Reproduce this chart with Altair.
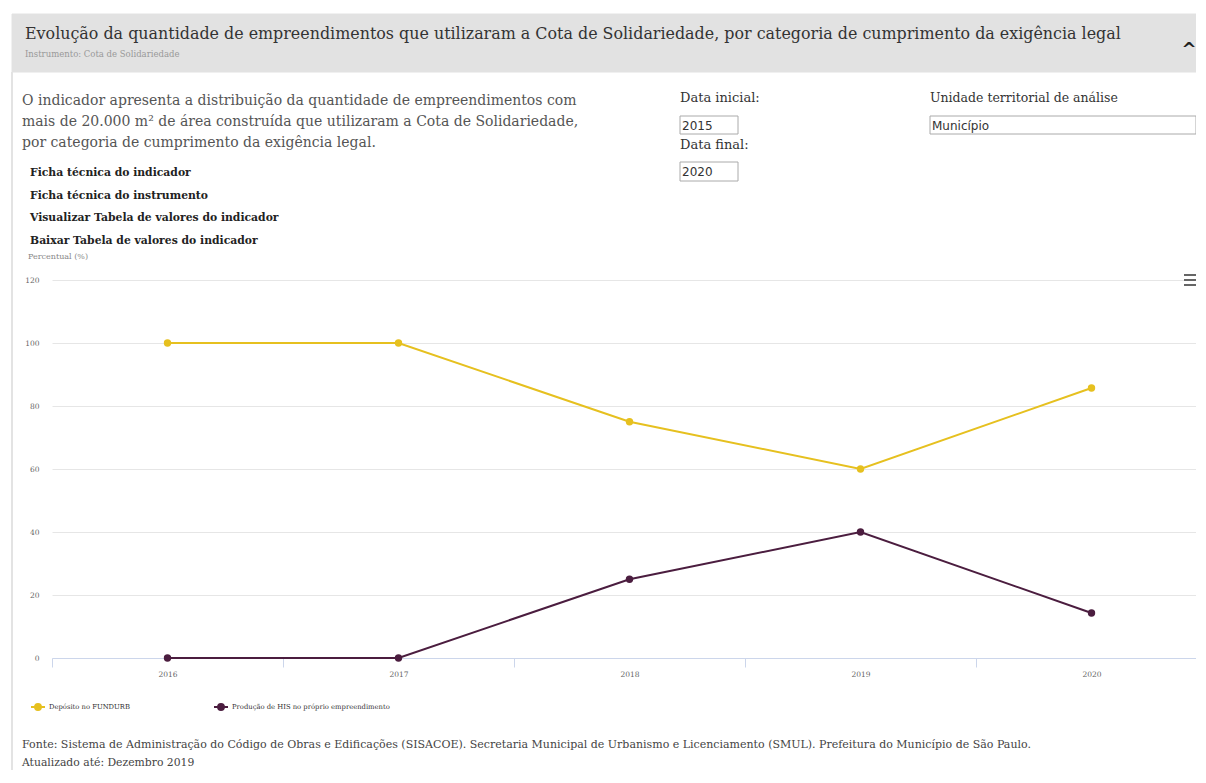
import altair as alt
import pandas as pd

# ---------------- data ----------------
years = ["2016", "2017", "2018", "2019", "2020"]
deposito = [100, 100, 75, 60, 85.7]
producao = [0, 0, 25, 40, 14.3]
series_names = ["Depósito no FUNDURB", "Produção de HIS no próprio empreendimento"]
series_colors = ["#E6C01F", "#4B1D3F"]
y_ticks = [0, 20, 40, 60, 80, 100, 120]

title_text = ("Evolução da quantidade de empreendimentos que utilizaram a Cota de "
              "Solidariedade, por categoria de cumprimento da exigência legal")
subtitle_text = "Instrumento: Cota de Solidariedade"
desc_lines = [
    "O indicador apresenta a distribuição da quantidade de empreendimentos com",
    "mais de 20.000 m² de área construída que utilizaram a Cota de Solidariedade,",
    "por categoria de cumprimento da exigência legal.",
]
links = [
    "Ficha técnica do indicador",
    "Ficha técnica do instrumento",
    "Visualizar Tabela de valores do indicador",
    "Baixar Tabela de valores do indicador",
]
y_title = "Percentual (%)"
source_text = ("Fonte: Sistema de Administração do Código de Obras e Edificações (SISACOE). "
               "Secretaria Municipal de Urbanismo e Licenciamento (SMUL). Prefeitura do Município de São Paulo.")
updated_text = "Atualizado até: Dezembro 2019"

df = pd.DataFrame({
    "ano": years * 2,
    "valor": deposito + producao,
    "serie": [series_names[0]] * len(years) + [series_names[1]] * len(years),
})

# ---------------- layout (page px -> plot-local px) ----------------
X0, Y0 = 52, 280
W, H = 1128, 378
SERIF = "DejaVu Serif"
one = pd.DataFrame({"k": [0]})


def P(x, y):
    return x - X0, y - Y0


def txt(s, x, y, size, color="#333", weight="normal", font=SERIF, align="left", baseline="middle"):
    lx, ly = P(x, y)
    return alt.Chart(one).mark_text(
        align=align, baseline=baseline, font=font, fontSize=size, color=color, fontWeight=weight
    ).encode(x=alt.value(lx), y=alt.value(ly), text=alt.value(s))


def box(x1, y1, x2, y2, fill="white", stroke="#aaa", sw=1):
    a, b = P(x1, y1)
    c, d = P(x2, y2)
    return alt.Chart(one).mark_rect(fill=fill, stroke=stroke, strokeWidth=sw).encode(
        x=alt.value(a), x2=alt.value(c), y=alt.value(b), y2=alt.value(d))


def hrule(x1, x2, y, color="#666", sw=2):
    a, b = P(x1, y)
    c, _ = P(x2, y)
    return alt.Chart(one).mark_rule(color=color, strokeWidth=sw).encode(
        x=alt.value(a), x2=alt.value(c), y=alt.value(b))


def vrule(x, y1, y2, color="#e3e3e3", sw=2):
    a, b = P(x, y1)
    _, d = P(x, y2)
    return alt.Chart(one).mark_rule(color=color, strokeWidth=sw).encode(
        x=alt.value(a), y=alt.value(b), y2=alt.value(d))


deco = [
    box(12, 14, 1210, 72, fill="#e2e2e2", stroke="#e2e2e2"),
    vrule(12, 72, 790),
    txt(title_text, 25, 34, 15.9, color="#333"),
    txt(subtitle_text, 25, 54, 8.5, color="#999"),
    txt("^", 1189, 50, 18, color="#222", weight="bold", font="DejaVu Sans", align="center"),
]
for i, line in enumerate(desc_lines):
    deco.append(txt(line, 22, 101 + 21 * i, 14, color="#555"))
for i, line in enumerate(links):
    deco.append(txt(line, 30, 173 + 22.5 * i, 10.8, color="#222", weight="bold"))
deco += [
    txt(y_title, 28, 257, 8, color="#888"),
    txt("Data inicial:", 680, 98, 13, color="#333"),
    box(680, 116, 738, 134),
    txt("2015", 682, 125.5, 12, color="#333", font="DejaVu Sans"),
    txt("Data final:", 680, 145, 13, color="#333"),
    box(680, 162, 738, 181),
    txt("2020", 682, 171.5, 12, color="#333", font="DejaVu Sans"),
    txt("Unidade territorial de análise", 930, 98, 12.5, color="#333"),
    box(930, 116, 1196, 134),
    txt("Município", 932, 125.5, 12, color="#333", font="DejaVu Sans"),
    hrule(1184, 1196, 275),
    hrule(1184, 1196, 280),
    hrule(1184, 1196, 285),
    txt(source_text, 22, 745, 11, color="#444"),
    txt(updated_text, 22, 763, 10.8, color="#444"),
]

# ---------------- chart ----------------
x_enc = alt.X(
    "ano:N", sort=years,
    scale=alt.Scale(range=[0, 1155], paddingInner=0, paddingOuter=0),
    axis=alt.Axis(title=None, labelAngle=0, tickBand="extent", tickSize=9, labelPadding=3,
                  labelFont=SERIF, labelFontSize=7.5, labelColor="#666",
                  domainColor="#ccd6eb", tickColor="#ccd6eb", grid=False),
)
y_enc = alt.Y(
    "valor:Q", scale=alt.Scale(domain=[0, 120], nice=False),
    axis=alt.Axis(title=None, values=y_ticks, grid=True, gridColor="#e6e6e6", ticks=False,
                  domain=False, labelPadding=13, labelFont=SERIF, labelFontSize=7.5,
                  labelColor="#666"),
)
sym = "M-1,0L1,0M-0.42,0A0.42,0.42,0,1,1,0.42,0A0.42,0.42,0,1,1,-0.42,0Z"
color_enc = alt.Color(
    "serie:N", sort=series_names,
    scale=alt.Scale(domain=series_names, range=series_colors),
    legend=alt.Legend(title=None, orient="none", legendX=-22, legendY=419, direction="horizontal",
                      labelFont=SERIF, labelFontSize=6.8, labelColor="#333", symbolType=sym,
                      symbolSize=196, symbolStrokeWidth=2, columnPadding=80, labelOffset=3,
                      labelLimit=500),
)

base = alt.Chart(df).encode(x=x_enc, y=y_enc, color=color_enc)
lines = base.mark_line(strokeWidth=2)
points = base.mark_point(filled=True, size=55, opacity=1)

chart = alt.layer(*deco, lines, points).properties(
    width=W, height=H,
    padding={"left": 44, "top": 272, "right": 16, "bottom": 112},
    autosize=alt.AutoSizeParams(type="none"),
    background="white",
).configure_view(stroke=None)

chart.save("out.html", embed_options={"renderer": "svg", "actions": False})
